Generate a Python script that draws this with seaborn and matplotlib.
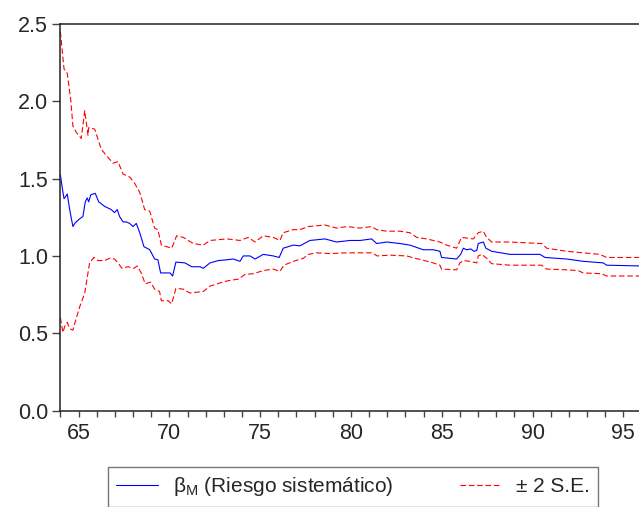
import matplotlib
matplotlib.use("Agg")
import matplotlib.pyplot as plt
import seaborn as sns
from matplotlib.ticker import FormatStrFormatter, MultipleLocator

# recursive beta estimate (years 19xx)
beta_years = [64.0, 64.09, 64.2, 64.38, 64.51, 64.69, 64.79, 64.87, 65.06, 65.24, 65.37, 65.48,
              65.56, 65.67, 65.92, 66.11, 66.44, 66.8, 66.98, 67.13, 67.26, 67.45, 67.63, 67.82,
              68.0, 68.18, 68.37, 68.6, 68.92, 69.19, 69.37, 69.52, 70.04, 70.18, 70.36, 70.86,
              71.23, 71.69, 71.87, 72.24, 72.7, 73.16, 73.52, 73.89, 74.07, 74.44, 74.72, 75.17,
              75.72, 76.05, 76.27, 76.83, 77.19, 77.74, 78.57, 79.21, 79.94, 80.5, 81.14, 81.42,
              81.97, 82.7, 83.25, 83.98, 84.53, 84.9, 84.99, 85.82, 86.04, 86.19, 86.37, 86.6,
              86.78, 86.93, 87.01, 87.29, 87.43, 87.75, 88.76, 90.41, 90.69, 91.88, 92.79, 93.89,
              94.08, 96.0]
beta_vals = [1.525, 1.45, 1.37, 1.40, 1.30, 1.19, 1.21, 1.22, 1.24, 1.255, 1.35, 1.375,
             1.35, 1.395, 1.405, 1.35, 1.32, 1.30, 1.28, 1.30, 1.255, 1.22, 1.22, 1.21,
             1.19, 1.21, 1.15, 1.06, 1.04, 0.98, 0.975, 0.89, 0.89, 0.87, 0.96, 0.955,
             0.93, 0.93, 0.92, 0.955, 0.97, 0.975, 0.98, 0.965, 1.00, 1.00, 0.98, 1.01,
             1.00, 0.99, 1.05, 1.07, 1.065, 1.10, 1.11, 1.09, 1.10, 1.10, 1.11, 1.08,
             1.09, 1.08, 1.07, 1.04, 1.04, 1.03, 0.99, 0.98, 1.01, 1.05, 1.04, 1.045,
             1.03, 1.035, 1.08, 1.09, 1.05, 1.03, 1.01, 1.01, 0.99, 0.98, 0.965, 0.955,
             0.94, 0.935]

# beta + 2 S.E.
upper_years = [64.0, 64.2, 64.38, 64.57, 64.69, 64.87, 65.15, 65.34, 65.52, 65.56, 65.89, 66.25,
               66.53, 66.9, 67.17, 67.45, 67.82, 68.09, 68.37, 68.64, 68.92, 69.19, 69.37, 69.56,
               70.13, 70.4, 70.77, 71.32, 71.87, 72.24, 73.16, 73.89, 74.35, 74.72, 75.17, 75.72,
               76.09, 76.27, 76.83, 77.19, 77.65, 78.57, 79.21, 79.77, 80.5, 81.14, 81.42, 81.97,
               82.7, 83.25, 83.62, 84.17, 84.9, 85.27, 85.82, 86.09, 86.74, 87.01, 87.29, 87.47,
               87.75, 88.76, 90.5, 90.78, 91.88, 92.79, 93.71, 94.08, 96.0]
upper_vals = [2.45, 2.21, 2.18, 2.01, 1.84, 1.80, 1.76, 1.94, 1.78, 1.83, 1.82, 1.69,
              1.65, 1.60, 1.61, 1.53, 1.51, 1.47, 1.41, 1.30, 1.29, 1.18, 1.17, 1.07,
              1.05, 1.13, 1.12, 1.08, 1.07, 1.10, 1.11, 1.10, 1.12, 1.09, 1.13, 1.12,
              1.10, 1.15, 1.17, 1.17, 1.19, 1.20, 1.18, 1.19, 1.18, 1.19, 1.17, 1.16,
              1.16, 1.15, 1.12, 1.11, 1.09, 1.07, 1.05, 1.12, 1.11, 1.15, 1.16, 1.12,
              1.09, 1.09, 1.08, 1.05, 1.03, 1.02, 1.01, 0.99, 0.99]

# beta - 2 S.E.
lower_years = [64.0, 64.14, 64.27, 64.38, 64.51, 64.69, 64.82, 65.06, 65.34, 65.61, 65.85, 66.07,
               66.44, 66.71, 66.98, 67.17, 67.39, 67.72, 68.05, 68.23, 68.45, 68.67, 68.97, 69.19,
               69.46, 69.56, 69.94, 70.13, 70.36, 70.77, 71.13, 71.87, 72.24, 72.79, 73.25, 73.8,
               74.16, 74.62, 75.17, 75.72, 76.09, 76.31, 76.83, 77.38, 77.65, 78.11, 78.84, 79.77,
               80.5, 81.14, 81.45, 82.15, 83.07, 83.52, 83.89, 84.53, 84.9, 84.99, 85.82, 86.0,
               86.19, 86.55, 86.93, 87.01, 87.2, 87.47, 87.75, 88.76, 90.5, 90.78, 91.88, 92.51,
               92.79, 93.8, 94.08, 96.0]
lower_vals = [0.60, 0.505, 0.555, 0.57, 0.53, 0.52, 0.575, 0.67, 0.76, 0.955, 0.99, 0.97,
              0.97, 0.985, 0.98, 0.955, 0.92, 0.93, 0.92, 0.935, 0.89, 0.82, 0.83, 0.785,
              0.77, 0.71, 0.71, 0.69, 0.79, 0.785, 0.76, 0.77, 0.805, 0.825, 0.84, 0.85,
              0.88, 0.885, 0.905, 0.915, 0.90, 0.94, 0.965, 0.985, 1.01, 1.02, 1.015, 1.02,
              1.02, 1.02, 1.00, 1.005, 1.00, 0.985, 0.975, 0.955, 0.94, 0.915, 0.91, 0.955,
              0.97, 0.965, 0.955, 1.00, 1.01, 0.985, 0.95, 0.94, 0.94, 0.915, 0.91, 0.905,
              0.89, 0.885, 0.87, 0.87]

beta_label = r"β$_\mathregular{M}$ (Riesgo sistemático)"
band_label = "± 2 S.E."

sns.set_theme(style="white")
plt.rcParams["font.family"] = ["Liberation Sans", "DejaVu Sans"]
plt.rcParams["mathtext.fontset"] = "custom"
plt.rcParams["mathtext.rm"] = "Liberation Sans"

fig = plt.figure(figsize=(6.39, 5.07), dpi=100)
ax = fig.add_axes([0.0945, 0.1903, 0.9094, 0.7623])

sns.lineplot(x=beta_years, y=beta_vals, ax=ax, color="#0000ff", linewidth=0.8,
             label=beta_label, estimator=None, sort=False)
sns.lineplot(x=upper_years, y=upper_vals, ax=ax, color="#ff0000", linewidth=0.8,
             label=band_label, estimator=None, sort=False)
sns.lineplot(x=lower_years, y=lower_vals, ax=ax, color="#ff0000", linewidth=0.8,
             estimator=None, sort=False)
for line in ax.lines[1:]:
    line.set_linestyle((0, (5, 2.5)))

ax.set_xlim(64, 96)
ax.set_ylim(0, 2.5)
ax.xaxis.set_major_locator(MultipleLocator(5))
ax.xaxis.set_minor_locator(MultipleLocator(1))
ax.yaxis.set_major_locator(MultipleLocator(0.5))
ax.yaxis.set_major_formatter(FormatStrFormatter("%.1f"))
ax.set_xlabel("")
ax.set_ylabel("")

for side in ["left", "bottom", "top"]:
    ax.spines[side].set_color("#222222")
    ax.spines[side].set_linewidth(1.1)
ax.spines["right"].set_visible(False)

ax.tick_params(axis="y", which="major", direction="out", length=6, width=1,
               color="#444444", labelsize=15.5, pad=3, left=True)
ax.tick_params(axis="x", which="both", direction="out", length=4.3, width=1,
               color="#444444", labelsize=15.5, pad=5, bottom=True)

# legend box spans 108..598 px and hangs off the bottom edge, as in the original
handles, labels = ax.get_legend_handles_labels()
ax.get_legend().remove()
fig.legend(handles, labels, loc="upper left",
           bbox_to_anchor=(108 / 639, 0, 490 / 639, 1 - 467 / 507), mode="expand",
           ncol=2, frameon=True, fancybox=False, edgecolor="#555555", fontsize=15,
           borderpad=0.4, handlelength=2.0, handletextpad=0.7, columnspacing=0.7,
           borderaxespad=0)

fig.savefig("out.png", dpi=100)
